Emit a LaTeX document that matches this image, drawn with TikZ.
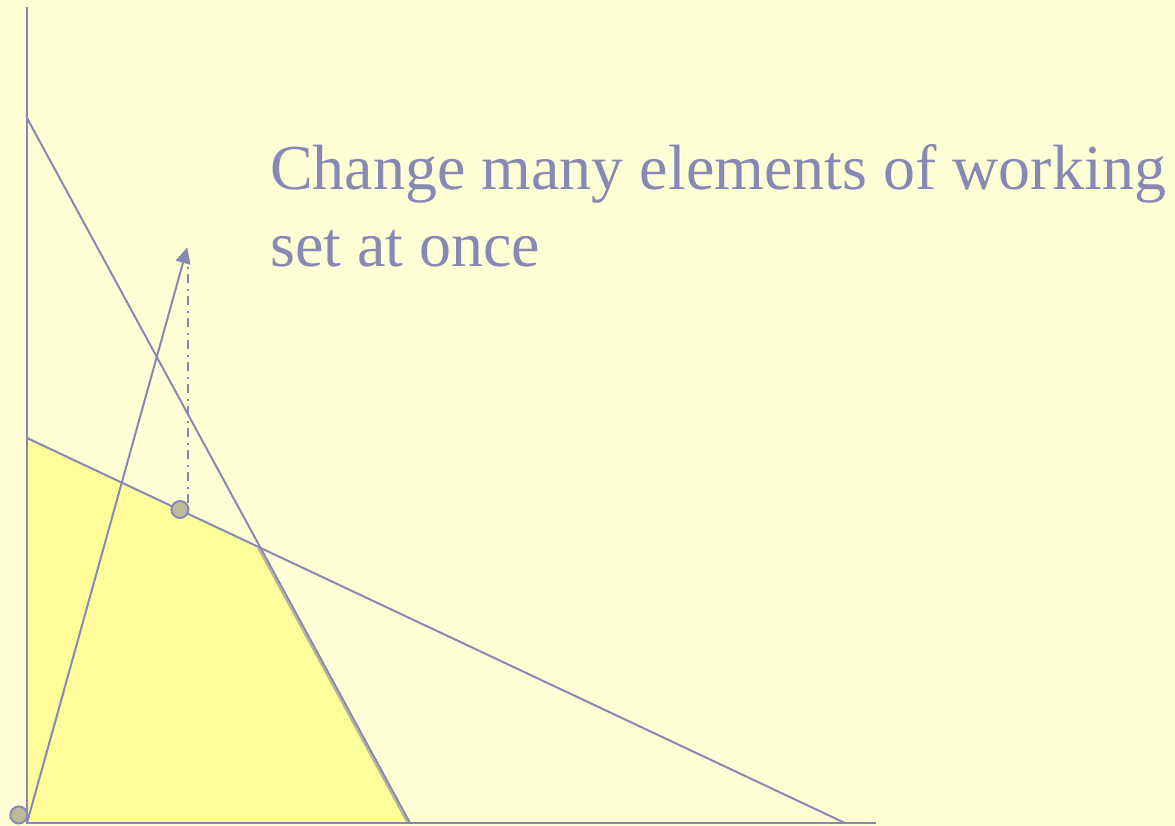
\documentclass[tikz,border=0pt]{standalone}
\usepackage{fontspec}
\setmainfont{Liberation Serif}
\usetikzlibrary{arrows.meta}
\definecolor{bg}{HTML}{FFFFD5}
\definecolor{feas}{HTML}{FFFF99}
\definecolor{ln}{HTML}{8888B4}
\definecolor{dotfill}{HTML}{BBBB99}
\definecolor{shadow}{HTML}{B4B494}
\tikzset{
  axisline/.style={draw=ln, line width=2.2pt},
  cline/.style={draw=ln, line width=2pt},
  pt/.style={circle, draw=ln, fill=dotfill, line width=2pt, minimum size=17pt, inner sep=0pt},
  lbl/.style={text=ln, font=\fontsize{64}{77}\selectfont, anchor=base west, inner sep=0pt},
}
\begin{document}
\begin{tikzpicture}[x=1pt,y=-1pt]
\fill[bg] (0,0) rectangle (1175,826);
\useasboundingbox (0,0) rectangle (1175,826);
\coordinate (O) at (27,823);
\coordinate (Ytop) at (27,7);
\coordinate (Xend) at (876,823);
\coordinate (a1) at (27,438);
\coordinate (a2) at (845,823);
\coordinate (b1) at (27,118);
\coordinate (b2) at (410,823);
\coordinate (P) at (intersection of a1--a2 and b1--b2);
% feasible region
\fill[feas] (O) -- (a1) -- (P) -- (b2) -- cycle;
\draw[shadow, line width=1.8pt] ([xshift=-2.4pt]P) -- ([xshift=-2.4pt]b2);
% axes
\draw[axisline] (Ytop) -- (O) -- (Xend);
% constraint lines
\draw[cline] (a1) -- (a2);
\draw[cline] (b1) -- (b2);
% direction arrow
\coordinate (tip) at (187.3,247.3);
\draw[cline, -{Triangle[length=16pt,width=15pt]}] (O) -- (tip);
% dash-dot projection
\coordinate (dtop) at (187.5,262);
\coordinate (dbot) at (187.5,503);
\draw[draw=ln!90!gray, line width=2pt, dash pattern=on 9pt off 5pt on 2pt off 6pt] (dbot) -- (dtop);
% points
\node[pt] (p1) at (180,509.5) {};
\node[pt] (p0) at (18.8,815) {};
% text
\node[lbl] (t1) at (270,190) {Change many elements of working};
\node[lbl] (t2) at (270,267) {set at once};
\end{tikzpicture}
\end{document}
